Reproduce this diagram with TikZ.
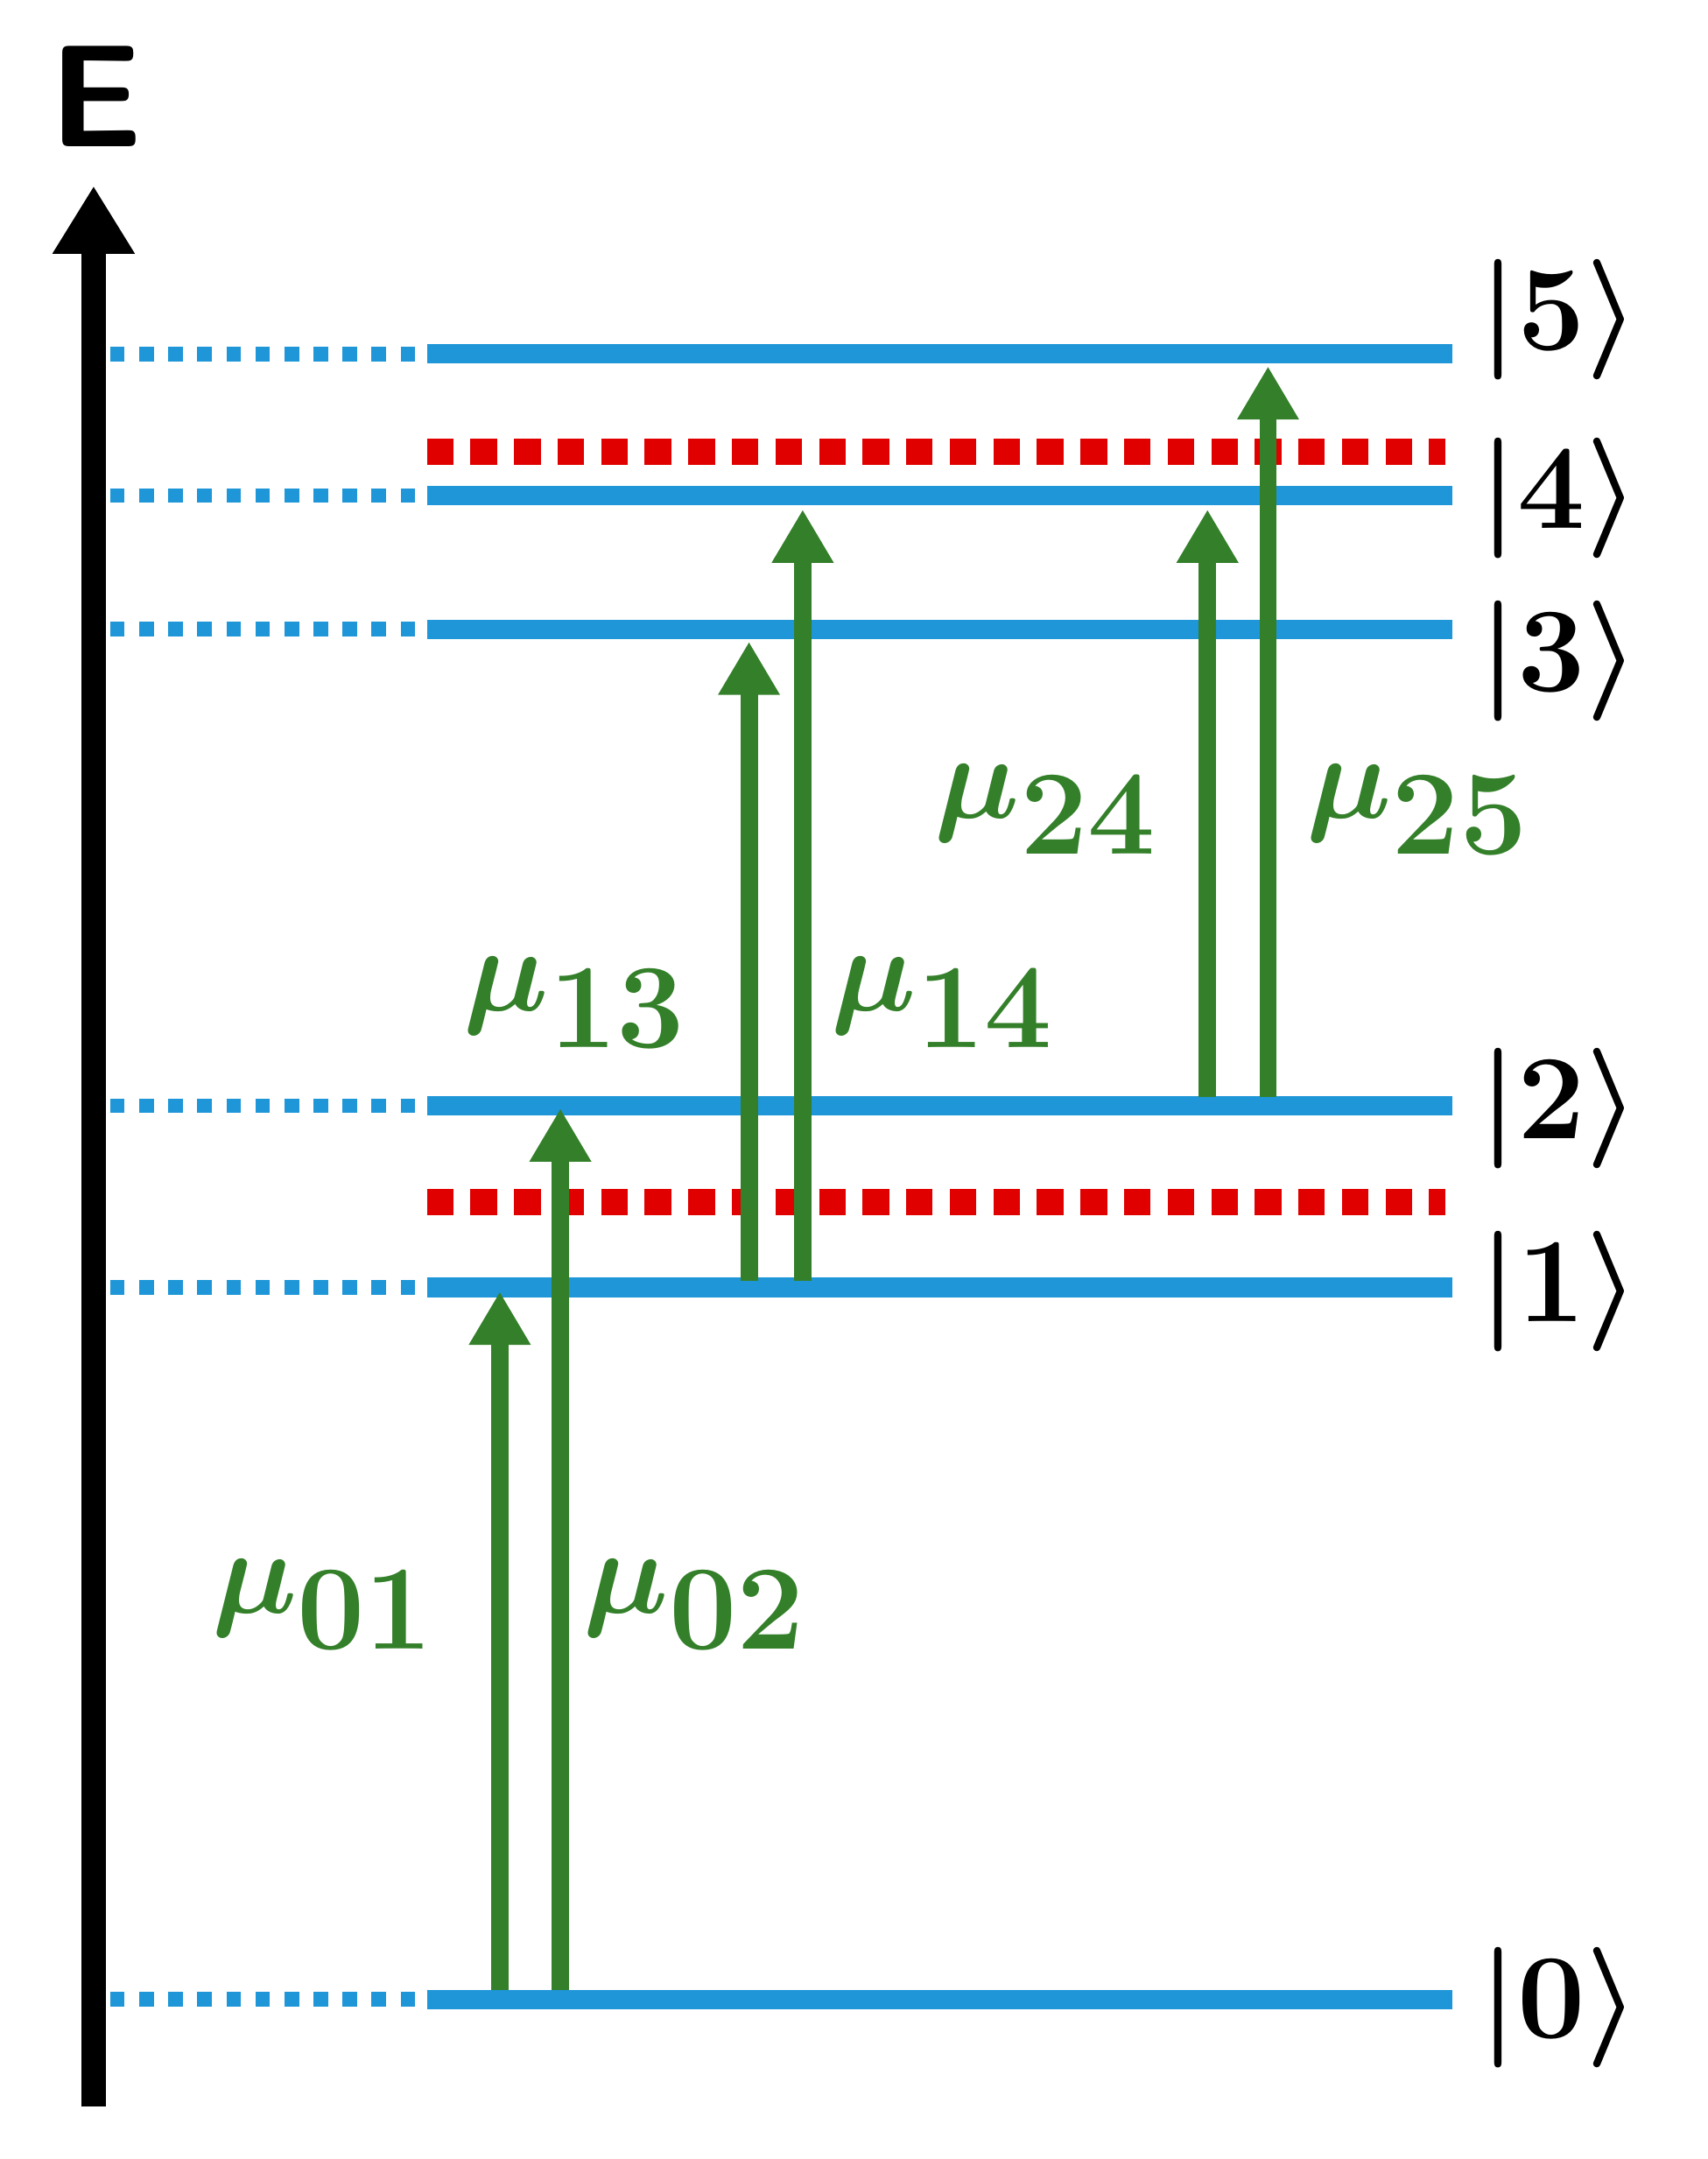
\documentclass[tikz,border=0pt]{standalone}
\usepackage{amsmath,bm}
\usetikzlibrary{arrows.meta}
\definecolor{lvl}{RGB}{30,150,215}
\definecolor{grn}{RGB}{52,128,42}
\definecolor{rd}{RGB}{225,0,0}
\begin{document}
\begin{tikzpicture}[x=0.01cm,y=-0.01cm,
  level/.style={draw=lvl,line width=4pt},
  dots/.style={draw=lvl,line width=3pt,dash pattern=on 3pt off 3pt},
  reddash/.style={draw=rd,line width=5.5pt,dash pattern=on 5.5pt off 3.5pt},
  trans/.style={draw=grn,line width=3.6pt,-{Triangle[width=12pt,length=11pt]}},
  lab/.style={text=grn,font=\fontsize{35}{40}\selectfont},
  ket/.style={font=\fontsize{36}{40}\selectfont\bfseries,anchor=west}]
\useasboundingbox (0,0) rectangle (1240,1568);
\coordinate (abot) at (68,1530);
\coordinate (atop) at (68,135);
\draw[line width=5pt,-{Triangle[width=16pt,length=14pt]}] (abot) -- (atop);
\node[font=\fontsize{30}{36}\selectfont\sffamily\bfseries] (E) at (70,70) {E};
\foreach \n/\y in {5/257,4/360,3/457,2/803,1/935,0/1452}{
  \coordinate (L\n a) at (310,\y);
  \coordinate (L\n b) at (1055,\y);
  \coordinate (D\n) at (80,\y);
  \draw[level] (L\n a) -- (L\n b);
  \draw[dots] (D\n) -- (L\n a);
}
\foreach \n/\y in {5/232,4/362,3/480,2/805,1/938,0/1458}{
  \node[ket] (K\n) at (1062,\y) {$\boldsymbol{|}\mathbf{\n}\boldsymbol{\rangle}$};
}
\coordinate (R1a) at (310,328); \coordinate (R1b) at (1050,328);
\coordinate (R2a) at (310,873); \coordinate (R2b) at (1050,873);
\draw[reddash] (R1a) -- (R1b);
\draw[reddash] (R2a) -- (R2b);
\coordinate (a1s) at (363,1445); \coordinate (a1e) at (363,938);
\coordinate (a2s) at (407,1445); \coordinate (a2e) at (407,805);
\coordinate (a3s) at (544,930); \coordinate (a3e) at (544,466);
\coordinate (a4s) at (583,930); \coordinate (a4e) at (583,370);
\coordinate (a5s) at (877,797); \coordinate (a5e) at (877,370);
\coordinate (a6s) at (921,797); \coordinate (a6e) at (921,266);
\foreach \i in {1,...,6}{\draw[trans] (a\i s) -- (a\i e);}
\node[lab] (m01) at (235,1165) {$\boldsymbol{\mu}_{\mathbf{01}}$};
\node[lab] (m02) at (505,1165) {$\boldsymbol{\mu}_{\mathbf{02}}$};
\node[lab] (m13) at (418,728) {$\boldsymbol{\mu}_{\mathbf{13}}$};
\node[lab] (m14) at (685,728) {$\boldsymbol{\mu}_{\mathbf{14}}$};
\node[lab] (m24) at (760,588) {$\boldsymbol{\mu}_{\mathbf{24}}$};
\node[lab] (m25) at (1030,588) {$\boldsymbol{\mu}_{\mathbf{25}}$};
\end{tikzpicture}
\end{document}
